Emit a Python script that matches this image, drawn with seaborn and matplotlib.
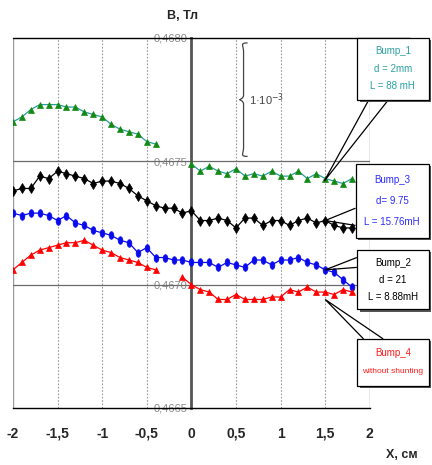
import numpy as np
import pandas as pd
import matplotlib
matplotlib.use("Agg")
import matplotlib.pyplot as plt
from matplotlib.path import Path
from matplotlib.patches import PathPatch, Rectangle, Polygon
import seaborn as sns

# ---- measured field profiles, B (T) vs X (cm) ----
x_left = [-2.0, -1.9, -1.8, -1.7, -1.6, -1.5, -1.4, -1.3, -1.2, -1.1,
          -1.0, -0.9, -0.8, -0.7, -0.6, -0.5, -0.4]
x_full = [-2.0, -1.9, -1.8, -1.7, -1.6, -1.5, -1.4, -1.3, -1.2, -1.1,
          -1.0, -0.9, -0.8, -0.7, -0.6, -0.5, -0.4, -0.3, -0.2, -0.1,
          0.0, 0.1, 0.2, 0.3, 0.4, 0.5, 0.6, 0.7, 0.8, 0.9,
          1.0, 1.1, 1.2, 1.3, 1.4, 1.5, 1.6, 1.7, 1.8]
x_right = [0.0, 0.1, 0.2, 0.3, 0.4, 0.5, 0.6, 0.7, 0.8, 0.9,
           1.0, 1.1, 1.2, 1.3, 1.4, 1.5, 1.6, 1.7, 1.8]
x_right_red = [-0.1] + x_right

bump1_left = [0.46766, 0.46768, 0.46771, 0.46773, 0.46773, 0.46773, 0.46772, 0.46772,
              0.46770, 0.46769, 0.46768, 0.46765, 0.46763, 0.46762, 0.46761, 0.46758,
              0.46757]
bump1_right = [0.46749, 0.46746, 0.46748, 0.46746, 0.46745, 0.46747, 0.46744, 0.46745,
               0.46744, 0.46746, 0.46744, 0.46744, 0.46746, 0.46743, 0.46745, 0.46743,
               0.46742, 0.46741, 0.46743]
bump3 = [0.46738, 0.46739, 0.46739, 0.46744, 0.46743, 0.46746, 0.46745, 0.46744,
         0.46743, 0.46741, 0.46742, 0.46742, 0.46741, 0.46739, 0.46736, 0.46734,
         0.46732, 0.46731, 0.46731, 0.46729, 0.46730,
         0.46726, 0.46726, 0.46727, 0.46726, 0.46723, 0.46727, 0.46727, 0.46724,
         0.46726, 0.46726, 0.46724, 0.46726, 0.46727, 0.46725, 0.46726, 0.46724,
         0.46723, 0.46723]
bump2 = [0.46729, 0.46728, 0.46729, 0.46729, 0.46728, 0.46726, 0.46728, 0.46725,
         0.46724, 0.46722, 0.46721, 0.46720, 0.46718, 0.46717, 0.46713, 0.46715,
         0.46711, 0.46711, 0.46710, 0.46710, 0.46709,
         0.46709, 0.46709, 0.46707, 0.46709, 0.46708, 0.46707, 0.46710, 0.46710,
         0.46708, 0.46710, 0.46710, 0.46711, 0.46709, 0.46708, 0.46706, 0.46705,
         0.46702, 0.46699]
bump4_left = [0.46706, 0.46709, 0.46712, 0.46714, 0.46715, 0.46716, 0.46717, 0.46717,
              0.46718, 0.46716, 0.46714, 0.46713, 0.46711, 0.46710, 0.46709, 0.46707,
              0.46706]
bump4_right = [0.46703, 0.46700, 0.46698, 0.46697, 0.46694, 0.46694, 0.46696, 0.46694,
               0.46694, 0.46694, 0.46695, 0.46695, 0.46698, 0.46697, 0.46699, 0.46697,
               0.46697, 0.46696, 0.46698, 0.46697]

x_ticks = [-2, -1.5, -1, -0.5, 0, 0.5, 1, 1.5, 2]
x_tick_labels = ["-2", "-1,5", "-1", "-0,5", "0", "0,5", "1", "1,5", "2"]
y_ticks = [0.4665, 0.4670, 0.4675, 0.4680]
y_tick_labels = ["0,4665", "0,4670", "0,4675", "0,4680"]

sns.set_theme(style="white")
plt.rcParams["font.family"] = ["Liberation Sans", "DejaVu Sans"]

fig = plt.figure(figsize=(4.32, 4.65), dpi=100)
ax = fig.add_axes([0.030, 0.1226, 0.826, 0.7957])
ax.set_xlim(-2, 2)
ax.set_ylim(0.4665, 0.4680)

# grid
for gx in [-1.5, -1, -0.5, 0.5, 1, 1.5]:
    ax.axvline(gx, color="#9a9a9a", lw=0.8, ls=(0, (1.5, 1.5)), zorder=1)
for gx in [-2, 2]:
    ax.axvline(gx, color="#9a9a9a", lw=1.0, zorder=1)
for gy in [0.4670, 0.4675]:
    ax.axhline(gy, color="#6a6a6a", lw=0.9, zorder=1)

# ellipse marker for the blue series
t = np.linspace(0, 2 * np.pi, 40)
oval = Path(np.column_stack([0.62 * np.cos(t), np.sin(t)]), closed=True)

green_line, green_mark = "#2a9d9d", "#138a13"

def draw(xs, ys, color, marker, ms, mec=None):
    df = pd.DataFrame({"x": xs, "B": ys})
    sns.lineplot(data=df, x="x", y="B", ax=ax, color=color, lw=0.9,
                 marker=marker, markersize=ms, markerfacecolor=mec or color,
                 markeredgecolor=mec or color, markeredgewidth=0.5,
                 errorbar=None, zorder=3)

draw(x_left, bump1_left, green_line, "^", 4.3, green_mark)
draw(x_right, bump1_right, green_line, "^", 4.3, green_mark)
draw(x_full, bump3, "black", "d", 5.5)
draw(x_full, bump2, "#0a0aee", oval, 5.5)
draw(x_left, bump4_left, "#ff0000", "^", 4.3)
draw(x_right_red, bump4_right, "#ff0000", "^", 4.3)

# axes styling: vertical axis through x = 0
ax.spines["left"].set_position(("data", 0))
ax.spines["left"].set_color("#555555")
ax.spines["left"].set_linewidth(2.0)
ax.spines["right"].set_visible(False)
ax.spines["top"].set_visible(False)
ax.spines["bottom"].set_color("black")
ax.spines["bottom"].set_linewidth(1.0)
ax.plot([-2, 2.45], [0.4680, 0.4680], color="black", lw=1.0, clip_on=False, zorder=4)

ax.set_xticks(x_ticks)
ax.set_xticklabels(x_tick_labels, fontsize=10, fontweight="bold")
ax.set_yticks(y_ticks)
ax.set_yticklabels(y_tick_labels, fontsize=8, color="#8a8a8a")
ax.tick_params(axis="x", direction="inout", length=5, width=0.8, color="black", pad=11)
ax.tick_params(axis="y", direction="inout", length=4, width=0.8, color="black", pad=1)
ax.set_xlabel("")
ax.set_ylabel("")

ax.text(-0.1, 0.46809, "B, Тл", fontsize=9, fontweight="bold", ha="center", va="center")
ax.text(2.36, 0.46631, "X, см", fontsize=9, fontweight="bold", ha="center", va="center",
        clip_on=False)

# curly brace spanning 0.4675 .. 0.4680
def brace(x0, y0, y1, w):
    ym = (y0 + y1) / 2
    h = y1 - y0
    verts = [(x0 + w, y1), (x0, y1), (x0 + w * 0.5, y1 - h * 0.02), (x0 + w * 0.5, y1 - h * 0.08),
             (x0 + w * 0.5, ym + h * 0.04),
             (x0 + w * 0.5, ym + h * 0.01), (x0, ym), (x0, ym),
             (x0, ym), (x0 + w * 0.5, ym - h * 0.01), (x0 + w * 0.5, ym - h * 0.04),
             (x0 + w * 0.5, y0 + h * 0.08),
             (x0 + w * 0.5, y0 + h * 0.02), (x0, y0), (x0 + w, y0)]
    codes = [Path.MOVETO, Path.CURVE4, Path.CURVE4, Path.CURVE4, Path.LINETO,
             Path.CURVE4, Path.CURVE4, Path.CURVE4,
             Path.CURVE4, Path.CURVE4, Path.CURVE4, Path.LINETO,
             Path.CURVE4, Path.CURVE4, Path.CURVE4]
    ax.add_patch(PathPatch(Path(verts, codes), fill=False, color="#444444", lw=0.9, zorder=4))

brace(0.54, 0.46752, 0.46798, 0.09)
ax.text(0.645, 0.46775, "1·10$^{-3}$", fontsize=8, color="#444444", ha="left", va="center")

# callout boxes
def callout(x0, x1, y0, y1, base, tip, lines, color, sizes):
    ax.add_patch(Polygon([base[0], tip, base[1]], closed=False, fill=False,
                         edgecolor="black", lw=0.9, clip_on=False, zorder=5))
    dx, dy = 0.03, 0.000009
    ax.add_patch(Rectangle((x0 + dx, y0 - dy), x1 - x0, y1 - y0, facecolor="#555555",
                           edgecolor="none", clip_on=False, zorder=5))
    ax.add_patch(Rectangle((x0, y0), x1 - x0, y1 - y0, facecolor="white",
                           edgecolor="black", lw=0.9, clip_on=False, zorder=6))
    n = len(lines)
    xc = (x0 + x1) / 2
    for i, (s, fs) in enumerate(zip(lines, sizes)):
        yy = y1 - (y1 - y0) * (i + 0.75) / (n + 0.5)
        ax.text(xc, yy, s, color=color, fontsize=fs, ha="center", va="center",
                clip_on=False, zorder=7)

callout(1.855, 2.66, 0.46775, 0.46800,
        [(1.99, 0.46775), (2.21, 0.46775)], (1.49, 0.46742),
        ["Bump_1", "d = 2mm", "L = 88 mH"], "#2aa0a0", [7, 7, 7])
callout(1.84, 2.66, 0.46719, 0.46749,
        [(1.84, 0.46731), (1.84, 0.46724)], (1.5, 0.46726),
        ["Bump_3", "d= 9.75", "L = 15.76mH"], "#2b2bff", [7, 7, 7])
callout(1.855, 2.66, 0.46690, 0.46714,
        [(1.855, 0.46711), (1.855, 0.46707)], (1.5, 0.46706),
        ["Bump_2", "d = 21", "L = 8.88mH"], "black", [7, 7, 7])
callout(1.855, 2.66, 0.46659, 0.46678,
        [(1.93, 0.46678), (2.15, 0.46678)], (1.5, 0.46694),
        ["Bump_4", "without shunting"], "#ff1a1a", [7, 6])

fig.savefig("out.png", dpi=100)
